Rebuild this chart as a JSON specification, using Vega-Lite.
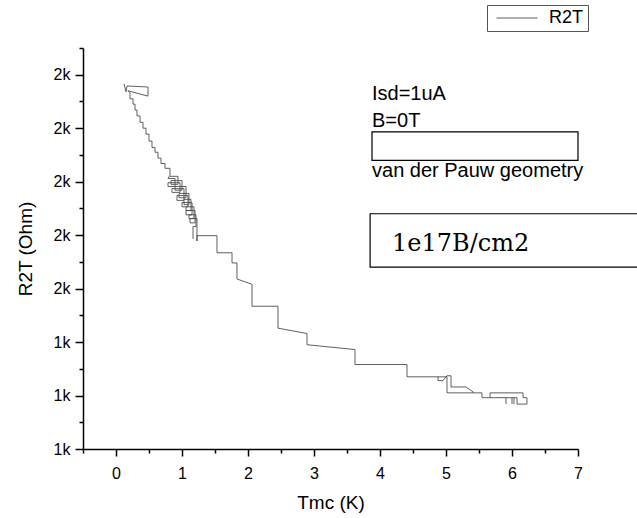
{
  "$schema": "https://vega.github.io/schema/vega-lite/v6.json",
  "width": 495,
  "height": 401,
  "autosize": {"type": "none"},
  "padding": {"left": 83, "top": 48, "right": 59, "bottom": 69},
  "background": "white",
  "config": {
    "view": {"stroke": null},
    "axis": {
      "grid": false,
      "domainColor": "black",
      "domainWidth": 1.5,
      "tickColor": "black",
      "tickWidth": 1.5,
      "labelFont": "Liberation Sans",
      "labelFontSize": 16,
      "labelColor": "black",
      "titleFont": "Liberation Sans",
      "titleFontSize": 19,
      "titleFontWeight": "normal",
      "titleColor": "black"
    }
  },
  "datasets": {
    "curve": [
      {"seg": 1, "i": 1, "x": 0.121, "y": 1883},
      {"seg": 1, "i": 2, "x": 0.152, "y": 1868},
      {"seg": 1, "i": 3, "x": 0.167, "y": 1879},
      {"seg": 1, "i": 4, "x": 0.485, "y": 1877},
      {"seg": 1, "i": 5, "x": 0.485, "y": 1860},
      {"seg": 1, "i": 6, "x": 0.182, "y": 1870},
      {"seg": 1, "i": 7, "x": 0.212, "y": 1866},
      {"seg": 1, "i": 8, "x": 0.212, "y": 1855},
      {"seg": 1, "i": 9, "x": 0.258, "y": 1855},
      {"seg": 1, "i": 10, "x": 0.258, "y": 1845},
      {"seg": 1, "i": 11, "x": 0.288, "y": 1845},
      {"seg": 1, "i": 12, "x": 0.288, "y": 1834},
      {"seg": 1, "i": 13, "x": 0.318, "y": 1834},
      {"seg": 1, "i": 14, "x": 0.318, "y": 1823},
      {"seg": 1, "i": 15, "x": 0.364, "y": 1823},
      {"seg": 1, "i": 16, "x": 0.364, "y": 1811},
      {"seg": 1, "i": 17, "x": 0.409, "y": 1811},
      {"seg": 1, "i": 18, "x": 0.409, "y": 1800},
      {"seg": 1, "i": 19, "x": 0.455, "y": 1800},
      {"seg": 1, "i": 20, "x": 0.455, "y": 1789},
      {"seg": 1, "i": 21, "x": 0.5, "y": 1789},
      {"seg": 1, "i": 22, "x": 0.5, "y": 1776},
      {"seg": 1, "i": 23, "x": 0.545, "y": 1776},
      {"seg": 1, "i": 24, "x": 0.545, "y": 1764},
      {"seg": 1, "i": 25, "x": 0.591, "y": 1764},
      {"seg": 1, "i": 26, "x": 0.591, "y": 1755},
      {"seg": 1, "i": 27, "x": 0.636, "y": 1755},
      {"seg": 1, "i": 28, "x": 0.636, "y": 1744},
      {"seg": 1, "i": 29, "x": 0.682, "y": 1744},
      {"seg": 1, "i": 30, "x": 0.682, "y": 1734},
      {"seg": 1, "i": 31, "x": 0.742, "y": 1734},
      {"seg": 1, "i": 32, "x": 0.742, "y": 1725},
      {"seg": 1, "i": 33, "x": 0.818, "y": 1725},
      {"seg": 1, "i": 34, "x": 0.818, "y": 1712},
      {"seg": 1, "i": 35, "x": 0.788, "y": 1706},
      {"seg": 1, "i": 36, "x": 0.894, "y": 1706},
      {"seg": 1, "i": 37, "x": 0.894, "y": 1691},
      {"seg": 1, "i": 38, "x": 0.788, "y": 1691},
      {"seg": 1, "i": 39, "x": 0.788, "y": 1698},
      {"seg": 1, "i": 40, "x": 0.97, "y": 1698},
      {"seg": 1, "i": 41, "x": 0.97, "y": 1680},
      {"seg": 1, "i": 42, "x": 0.848, "y": 1680},
      {"seg": 1, "i": 43, "x": 0.848, "y": 1687},
      {"seg": 1, "i": 44, "x": 1.03, "y": 1687},
      {"seg": 1, "i": 45, "x": 1.03, "y": 1665},
      {"seg": 1, "i": 46, "x": 0.924, "y": 1665},
      {"seg": 1, "i": 47, "x": 0.924, "y": 1674},
      {"seg": 1, "i": 48, "x": 1.091, "y": 1674},
      {"seg": 1, "i": 49, "x": 1.091, "y": 1653},
      {"seg": 1, "i": 50, "x": 1.0, "y": 1653},
      {"seg": 1, "i": 51, "x": 1.0, "y": 1661},
      {"seg": 1, "i": 52, "x": 1.152, "y": 1661},
      {"seg": 1, "i": 53, "x": 1.152, "y": 1638},
      {"seg": 1, "i": 54, "x": 1.061, "y": 1638},
      {"seg": 1, "i": 55, "x": 1.061, "y": 1646},
      {"seg": 1, "i": 56, "x": 1.197, "y": 1646},
      {"seg": 1, "i": 57, "x": 1.197, "y": 1623},
      {"seg": 1, "i": 58, "x": 1.121, "y": 1623},
      {"seg": 1, "i": 59, "x": 1.121, "y": 1631},
      {"seg": 1, "i": 60, "x": 1.227, "y": 1631},
      {"seg": 1, "i": 61, "x": 1.227, "y": 1589},
      {"seg": 1, "i": 62, "x": 1.227, "y": 1599},
      {"seg": 1, "i": 63, "x": 1.53, "y": 1599},
      {"seg": 1, "i": 64, "x": 1.53, "y": 1567},
      {"seg": 1, "i": 65, "x": 1.758, "y": 1567},
      {"seg": 1, "i": 66, "x": 1.758, "y": 1548},
      {"seg": 1, "i": 67, "x": 1.833, "y": 1548},
      {"seg": 1, "i": 68, "x": 1.833, "y": 1518},
      {"seg": 1, "i": 69, "x": 2.061, "y": 1508},
      {"seg": 1, "i": 70, "x": 2.061, "y": 1467},
      {"seg": 1, "i": 71, "x": 2.455, "y": 1467},
      {"seg": 1, "i": 72, "x": 2.455, "y": 1426},
      {"seg": 1, "i": 73, "x": 2.894, "y": 1416},
      {"seg": 1, "i": 74, "x": 2.894, "y": 1395},
      {"seg": 1, "i": 75, "x": 3.621, "y": 1386},
      {"seg": 1, "i": 76, "x": 3.621, "y": 1358},
      {"seg": 1, "i": 77, "x": 4.409, "y": 1358},
      {"seg": 1, "i": 78, "x": 4.409, "y": 1335},
      {"seg": 1, "i": 79, "x": 5.015, "y": 1335},
      {"seg": 1, "i": 80, "x": 5.015, "y": 1305},
      {"seg": 1, "i": 81, "x": 5.409, "y": 1305},
      {"seg": 1, "i": 82, "x": 5.545, "y": 1305},
      {"seg": 1, "i": 83, "x": 5.545, "y": 1296},
      {"seg": 1, "i": 84, "x": 5.667, "y": 1296},
      {"seg": 1, "i": 85, "x": 5.667, "y": 1305},
      {"seg": 1, "i": 86, "x": 6.167, "y": 1305},
      {"seg": 1, "i": 87, "x": 6.167, "y": 1296},
      {"seg": 1, "i": 88, "x": 6.227, "y": 1296},
      {"seg": 1, "i": 89, "x": 6.227, "y": 1284},
      {"seg": 1, "i": 90, "x": 6.076, "y": 1284},
      {"seg": 1, "i": 91, "x": 6.076, "y": 1296},
      {"seg": 1, "i": 92, "x": 5.667, "y": 1296},
      {"seg": 2, "i": 1, "x": 5.015, "y": 1337},
      {"seg": 2, "i": 2, "x": 5.076, "y": 1337},
      {"seg": 2, "i": 3, "x": 5.076, "y": 1316},
      {"seg": 2, "i": 4, "x": 5.303, "y": 1316},
      {"seg": 2, "i": 5, "x": 5.409, "y": 1307},
      {"seg": 2, "i": 6, "x": 5.409, "y": 1305},
      {"seg": 3, "i": 1, "x": 4.879, "y": 1335},
      {"seg": 3, "i": 2, "x": 4.879, "y": 1328},
      {"seg": 3, "i": 3, "x": 4.955, "y": 1328},
      {"seg": 3, "i": 4, "x": 5.015, "y": 1337},
      {"seg": 4, "i": 1, "x": 5.909, "y": 1296},
      {"seg": 4, "i": 2, "x": 5.909, "y": 1284},
      {"seg": 5, "i": 1, "x": 6.0, "y": 1296},
      {"seg": 5, "i": 2, "x": 6.0, "y": 1284},
      {"seg": 6, "i": 1, "x": 6.03, "y": 1296},
      {"seg": 6, "i": 2, "x": 6.03, "y": 1284},
      {"seg": 7, "i": 1, "x": 0.818, "y": 1710},
      {"seg": 7, "i": 2, "x": 0.939, "y": 1710},
      {"seg": 7, "i": 3, "x": 0.939, "y": 1695},
      {"seg": 7, "i": 4, "x": 0.833, "y": 1695},
      {"seg": 7, "i": 5, "x": 0.833, "y": 1702},
      {"seg": 7, "i": 6, "x": 1.0, "y": 1702},
      {"seg": 7, "i": 7, "x": 1.0, "y": 1684},
      {"seg": 7, "i": 8, "x": 0.894, "y": 1684},
      {"seg": 7, "i": 9, "x": 0.894, "y": 1691},
      {"seg": 7, "i": 10, "x": 1.061, "y": 1691},
      {"seg": 7, "i": 11, "x": 1.061, "y": 1670},
      {"seg": 7, "i": 12, "x": 0.955, "y": 1670},
      {"seg": 7, "i": 13, "x": 0.955, "y": 1678},
      {"seg": 7, "i": 14, "x": 1.106, "y": 1678},
      {"seg": 7, "i": 15, "x": 1.106, "y": 1657},
      {"seg": 7, "i": 16, "x": 1.03, "y": 1657},
      {"seg": 7, "i": 17, "x": 1.03, "y": 1667},
      {"seg": 7, "i": 18, "x": 1.136, "y": 1667},
      {"seg": 7, "i": 19, "x": 1.136, "y": 1646},
      {"seg": 7, "i": 20, "x": 1.061, "y": 1646},
      {"seg": 7, "i": 21, "x": 1.061, "y": 1653},
      {"seg": 7, "i": 22, "x": 1.182, "y": 1653},
      {"seg": 7, "i": 23, "x": 1.182, "y": 1631},
      {"seg": 7, "i": 24, "x": 1.106, "y": 1631},
      {"seg": 7, "i": 25, "x": 1.106, "y": 1638},
      {"seg": 7, "i": 26, "x": 1.212, "y": 1638},
      {"seg": 7, "i": 27, "x": 1.212, "y": 1616},
      {"seg": 7, "i": 28, "x": 1.167, "y": 1616},
      {"seg": 7, "i": 29, "x": 1.167, "y": 1593}
    ],
    "boxes": [
      {"x1": 3.879, "x2": 7.0, "y1": 1793, "y2": 1740},
      {"x1": 3.85, "x2": 8.2, "y1": 1640, "y2": 1540}
    ],
    "sansNotes": [
      {"label": "Isd=1uA", "x": 3.879, "y": 1853},
      {"label": "B=0T", "x": 3.879, "y": 1802},
      {"label": "van der Pauw geometry", "x": 3.879, "y": 1708}
    ],
    "serifNotes": [
      {"label": "1e17B/cm2", "x": 4.182, "y": 1571}
    ],
    "minor": [
      {"x": -0.5, "y": 1250}
    ]
  },
  "layer": [
    {
      "data": {"name": "boxes"},
      "mark": {"type": "rect", "fill": "white", "stroke": "black", "strokeWidth": 1.2},
      "encoding": {
        "x": {"field": "x1", "type": "quantitative", "axis": null},
        "x2": {"field": "x2"},
        "y": {"field": "y1", "type": "quantitative", "axis": null},
        "y2": {"field": "y2"}
      }
    },
    {
      "data": {"name": "curve"},
      "transform": [{"calculate": "'R2T'", "as": "series"}],
      "mark": {"type": "line", "strokeWidth": 1, "opacity": 0.85},
      "encoding": {
        "x": {
          "field": "x", "type": "quantitative",
          "scale": {"domain": [-0.5, 7], "nice": false, "zero": false},
          "axis": {"orient": "bottom", "values": [0, 1, 2, 3, 4, 5, 6, 7], "title": "Tmc (K)", "tickSize": 7, "labelPadding": 9, "titlePadding": 12, "labelFlush": false}
        },
        "y": {
          "field": "y", "type": "quantitative",
          "scale": {"domain": [1200, 1950], "nice": false, "zero": false},
          "axis": {"orient": "left", "values": [1200, 1300, 1400, 1500, 1600, 1700, 1800, 1900], "labelExpr": "format(datum.value / 1000, '.0f') + 'k'", "title": "R2T (Ohm)", "tickSize": 8, "labelPadding": 5, "titlePadding": 18, "labelFlush": false}
        },
        "detail": {"field": "seg", "type": "nominal"},
        "order": {"field": "i", "type": "quantitative"},
        "color": {
          "field": "series", "type": "nominal",
          "scale": {"range": ["#444444"]},
          "legend": {
            "orient": "none", "legendX": 404, "legendY": -43, "title": null,
            "symbolType": "stroke", "symbolSize": 1681, "symbolStrokeWidth": 1,
            "symbolOffset": 5, "clipHeight": 18,
            "labelFont": "Liberation Sans", "labelFontSize": 18, "labelColor": "black",
            "labelOffset": 11, "strokeColor": "#555555", "padding": 4
          }
        }
      }
    },
    {
      "data": {"name": "minor"},
      "mark": {"type": "point", "opacity": 0},
      "encoding": {
        "x": {
          "field": "x", "type": "quantitative",
          "axis": {"orient": "bottom", "values": [-0.5, 0.5, 1.5, 2.5, 3.5, 4.5, 5.5, 6.5], "labels": false, "domain": false, "tickSize": 4, "title": null}
        },
        "y": {
          "field": "y", "type": "quantitative",
          "axis": {"orient": "left", "values": [1250, 1350, 1450, 1550, 1650, 1750, 1850, 1950], "labels": false, "domain": false, "tickSize": 4, "title": null}
        }
      }
    },
    {
      "data": {"name": "sansNotes"},
      "mark": {"type": "text", "font": "Liberation Sans", "fontSize": 20, "align": "left", "baseline": "alphabetic", "color": "black"},
      "encoding": {
        "x": {"field": "x", "type": "quantitative", "axis": null},
        "y": {"field": "y", "type": "quantitative", "axis": null},
        "text": {"field": "label"}
      }
    },
    {
      "data": {"name": "serifNotes"},
      "mark": {"type": "text", "font": "DejaVu Serif", "fontSize": 24, "align": "left", "baseline": "alphabetic", "color": "black"},
      "encoding": {
        "x": {"field": "x", "type": "quantitative", "axis": null},
        "y": {"field": "y", "type": "quantitative", "axis": null},
        "text": {"field": "label"}
      }
    }
  ],
  "resolve": {"axis": {"x": "independent", "y": "independent"}}
}
